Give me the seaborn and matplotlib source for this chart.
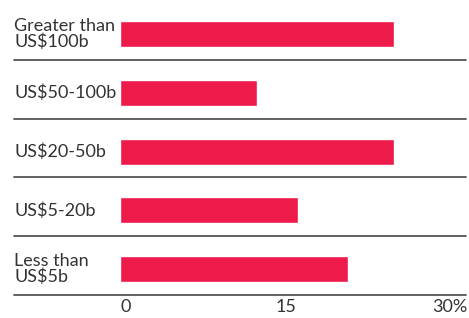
import matplotlib
matplotlib.use("Agg")
import matplotlib.pyplot as plt
import matplotlib.transforms as mtransforms
import seaborn as sns
import pandas as pd

# data
categories = ["Greater than\nUS$100b", "US$50-100b", "US$20-50b", "US$5-20b", "Less than\nUS$5b"]
shares = [26.3, 13.2, 26.3, 17.1, 21.9]
tick_values = [0, 15, 30]
tick_labels = ["0", "15", "30%"]

df = pd.DataFrame({"category": categories, "share": shares})

sns.set_theme(style="white")
plt.rcParams["font.family"] = ["Lato", "DejaVu Sans"]

bar_color = "#ED1A4A"
text_color = "#333333"
line_color = "#555555"

fig = plt.figure(figsize=(4.69, 3.18), dpi=100)
# axes from x=120px to 466px, y from 0 to 295px (top-down)
ax = fig.add_axes([120 / 469, 23 / 318, 346 / 469, 295 / 318])

sns.barplot(data=df, x="share", y="category", orient="h", color=bar_color,
            width=0.44, saturation=1, ax=ax)

ax.set_xlim(0, 346 / 10.4)
ax.set_ylim(4.44, -0.58)

# separator lines under each row, running under the labels too
left_ext = -(120 - 14) / 346
for i in range(len(categories)):
    ax.axhline(i + 0.44, xmin=left_ext, xmax=1, color=line_color, lw=1.3, clip_on=False)

for s in ax.spines.values():
    s.set_visible(False)

ax.set_xlabel("")
ax.set_ylabel("")
ax.set_yticks(range(len(categories)))
ax.set_yticklabels([])
ax.tick_params(axis="both", length=0)

# category labels, left aligned at the far left
trans = mtransforms.blended_transform_factory(fig.transFigure, ax.transData)
for i, c in enumerate(categories):
    ax.text(14 / 469, i, c, transform=trans, fontsize=13, color=text_color,
            ha="left", va="center", linespacing=0.95)

ax.set_xticks(tick_values)
ax.set_xticklabels(tick_labels, ha="left", fontsize=13, color=text_color)
ax.tick_params(axis="x", pad=3)

fig.savefig("out.png", dpi=100)
